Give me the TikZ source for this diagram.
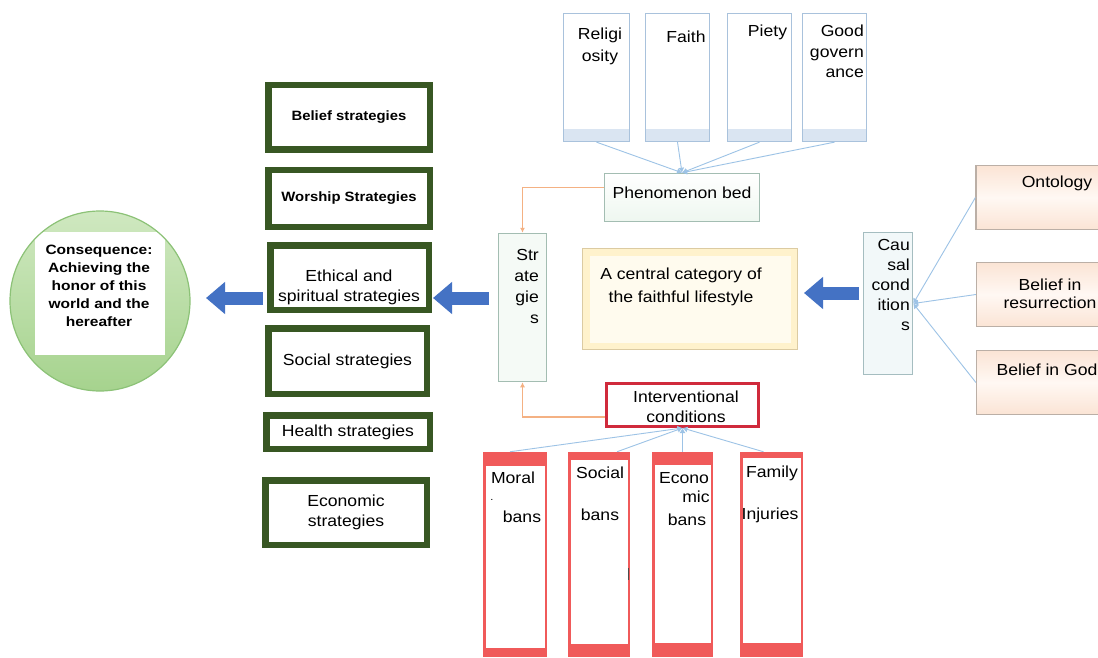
\documentclass[tikz,border=0pt]{standalone}
\usepackage{fontspec}
\setmainfont{Liberation Sans}[FakeStretch=1.1]
\newfontfamily\widefont{Liberation Sans}[FakeStretch=1.15]
\usetikzlibrary{arrows.meta,calc}
\definecolor{blueA}{HTML}{4472C4}
\definecolor{lineblue}{HTML}{9DC3E6}
\definecolor{orangeL}{HTML}{F4B183}
\definecolor{dkgreen}{HTML}{385723}
\definecolor{crimson}{HTML}{D02A3C}
\definecolor{coral}{HTML}{F05A5A}
\definecolor{topedge}{HTML}{A9C2DC}
\definecolor{topstrip}{HTML}{DAE5F2}
\definecolor{mintedge}{HTML}{A3BDB2}
\definecolor{mintfill}{HTML}{EEF7F0}
\definecolor{causedge}{HTML}{A5BDC0}
\definecolor{causfill}{HTML}{F2F8F9}
\definecolor{peachedge}{HTML}{BBAFA6}
\definecolor{peach}{HTML}{FBE4D5}
\definecolor{peachmid}{HTML}{FFF8F3}
\definecolor{yedge}{HTML}{DCCBA2}
\definecolor{yfill}{HTML}{FFF2CC}
\definecolor{yinner}{HTML}{FFFBEE}
\definecolor{cgreen1}{HTML}{CFE8C0}
\definecolor{cgreen2}{HTML}{A6D38E}
\definecolor{cgreenD}{HTML}{8CC277}
\begin{document}
\begin{tikzpicture}[x=1pt,y=-1pt,
  txt/.style={inner sep=0pt, font=\fontsize{16}{20}\selectfont, align=center},
  ntxt/.style={inner sep=0pt, font=\fontsize{16}{21}\selectfont, align=right},
  gbox/.style={draw=dkgreen, line width=6.5pt, fill=white, inner sep=0pt,
    font=\fontsize{16}{20}\selectfont, align=center},
  gboxb/.style={gbox, font=\bfseries\fontsize{13.5}{16}\selectfont},
  topbox/.style={draw=topedge, line width=1.3pt, fill=white, inner sep=0pt,
    minimum height=128pt,
    path picture={\fill[topstrip] ([yshift=12pt]path picture bounding box.south west)
      rectangle (path picture bounding box.south east);}},
  mintbox/.style={draw=mintedge, line width=1.5pt, inner sep=0pt},
  peachbox/.style={draw=peachedge, line width=1.2pt, inner sep=0pt,
    top color=peach, bottom color=peach, middle color=peachmid,
    minimum width=164pt, minimum height=64pt},
  rbox/.style 2 args={draw=coral, line width=2.5pt, fill=white, inner sep=0pt,
    minimum height=203pt,
    path picture={\fill[coral] (path picture bounding box.north west)
      rectangle ([yshift=-#1pt]path picture bounding box.north east);
      \fill[coral] ([yshift=#2pt]path picture bounding box.south west)
      rectangle (path picture bounding box.south east);}},
  conn/.style={draw=lineblue, line width=0.9pt},
  hub/.style={-{Latex[length=5pt,width=6pt]}},
  oconn/.style={draw=orangeL, line width=1.3pt, -{Latex[length=5pt,width=5pt]}},
  barrow/.style={draw=blueA, line width=13pt, -{Triangle[length=19pt,width=31pt]}}
]
\fill[white] (0,0) rectangle (1098,658);
\useasboundingbox (0,0) rectangle (1098,658);

% consequence circle
\node[circle, draw=cgreenD, line width=1.2pt, top color=cgreen1, bottom color=cgreen2,
  minimum size=180pt, inner sep=0pt,
  path picture={\fill[white] ([shift={(-65pt,69pt)}]path picture bounding box.center)
     rectangle ([shift={(65pt,-54pt)}]path picture bounding box.center);}] (cons) at (100,301) {};
\node[inner sep=0pt, align=center, font=\widefont\bfseries\fontsize{13.5}{18}\selectfont]
  (const) at (99,286) {Consequence:\\Achieving the\\honor of this\\world and the\\hereafter};

% strategies column
\node[gboxb, minimum width=161.5pt, minimum height=64.5pt] (bel) at (349,117.5) {Belief strategies};
\node[gboxb, minimum width=161.5pt, minimum height=56.5pt] (wor) at (349,198.5) {Worship Strategies};
\node[gbox, minimum width=158.5pt, minimum height=64.5pt] (eth) at (349.5,277.5) {};
\node[txt] (etht) at (349,287) {Ethical and\\spiritual strategies};
\node[gbox, minimum width=158.5pt, minimum height=65.5pt] (soc) at (347.5,361) {Social strategies};
\node[gbox, minimum width=163.5pt, minimum height=33.5pt] (hea) at (348,432) {Health strategies};
\node[gbox, minimum width=161.5pt, minimum height=64.5pt] (eco) at (346,512.5) {Economic\\strategies};

% top boxes
\node[topbox, minimum width=66pt] (rel) at (596.5,77.5) {};
\node[topbox, minimum width=64pt] (fai) at (677.5,77.5) {};
\node[topbox, minimum width=64pt] (pie) at (759.5,77.5) {};
\node[topbox, minimum width=64pt] (gov) at (834.5,77.5) {};
\node[txt, font=\fontsize{16}{22}\selectfont] (relt) at (600,46) {Religi\\osity};
\node[txt] (fait) at (686,37) {Faith};
\node[txt] (piet) at (767.5,32) {Piety};
\node[txt, align=right, anchor=north east, font=\fontsize{16}{20.5}\selectfont] (govt) at (864,25) {Good\\govern\\ance};

% phenomenon bed
\node[mintbox, top color=white, bottom color=mintfill, minimum width=155pt, minimum height=48pt] (phen) at (682,197.5) {};
\node[txt] (phent) at (682,193) {Phenomenon bed};

% strategies
\node[mintbox, fill=mintfill!60, minimum width=48pt, minimum height=148pt] (strat) at (522.5,307.5) {};
\node[ntxt, anchor=north east] (stratt) at (539,249) {Str\\ate\\gie\\s};

% central category
\node[draw=yedge, line width=1.2pt, fill=yfill, inner sep=0pt, minimum width=215pt, minimum height=101pt,
  path picture={\fill[yinner] ([shift={(7pt,7pt)}]path picture bounding box.south west)
    rectangle ([shift={(-7pt,-7pt)}]path picture bounding box.north east);}] (cent) at (690,299) {};
\node[txt, font=\fontsize{16}{22.5}\selectfont] (centt) at (681,287) {A central category of\\the faithful lifestyle};

% causal conditions
\node[draw=causedge, line width=1.5pt, fill=causfill, inner sep=0pt, minimum width=49pt, minimum height=142pt] (caus) at (888,303.5) {};
\node[ntxt, anchor=north east, font=\fontsize{16}{20}\selectfont] (caust) at (910,239) {Cau\\sal\\cond\\ition\\s};

% right boxes
\node[peachbox] (ont) at (1058,197.5) {};
\node[txt] (ontt) at (1057,183) {Ontology};
\node[peachbox] (res) at (1058.5,294.5) {};
\node[txt, font=\fontsize{16}{18}\selectfont] (rest) at (1050,294) {Belief in\\resurrection};
\node[peachbox] (god) at (1058.5,382.5) {};
\node[txt] (godt) at (1047,370) {Belief in God};

% interventional conditions
\node[draw=crimson, line width=3pt, fill=white, inner sep=0pt, minimum width=152pt, minimum height=43pt] (inter) at (682.5,405) {};
\node[txt] (intert) at (686,407) {Interventional\\conditions};

% bottom boxes
\node[rbox={13}{8}, minimum width=61.5pt] (mor) at (515,554.5) {};
\node[rbox={7}{12}, minimum width=59.5pt] (socb) at (599,554.5) {};
\node[rbox={12}{13}, minimum width=58.5pt] (ecob) at (682.5,554.5) {};
\node[rbox={5}{13}, minimum width=60.5pt] (fam) at (771.5,554.5) {};
\node[txt] (mort1) at (513,478) {Moral};
\node[txt, font=\fontsize{10}{10}\selectfont] (mort2) at (492,500) {.};
\node[txt] (mort3) at (522,517) {bans};
\node[txt] (socbt1) at (600,473) {Social};
\node[txt] (socbt2) at (600,515) {bans};
\node[txt] (ecot1) at (684,478) {Econo};
\node[txt] (ecot2) at (696,497) {mic};
\node[txt] (ecot3) at (687,520) {bans};
\node[txt] (famt1) at (772,473) {Family};
\node[txt] (famt2) at (770,515) {Injuries};
\draw[black!70, line width=1pt] (628,568) -- (628,580);

% thin connectors
\foreach \b in {rel,fai,pie,gov} \draw[conn, hub] (\b.south) -- (phen.north);
\draw[conn, hub] ([xshift=-5pt]mor.north) -- (inter.south);
\draw[conn, hub] ([xshift=18pt]socb.north) -- (inter.south);
\draw[conn, hub] (ecob.north) -- (inter.south);
\draw[conn, hub] ([xshift=-8pt]fam.north) -- (inter.south);
\draw[conn, hub] (ont.west) -- (caus.east);
\draw[conn, hub] (res.west) -- (caus.east);
\draw[conn, hub] (god.west) -- (caus.east);

% orange connectors
\draw[oconn] ([yshift=10pt]phen.west) -| (strat.north);
\draw[oconn] ([yshift=-12pt]inter.west) -| (strat.south);

% block arrows
\coordinate (a1s) at (263,298); \coordinate (a1e) at (206,298);
\coordinate (a2s) at (489,298); \coordinate (a2e) at (433,298);
\coordinate (a3s) at (859,293); \coordinate (a3e) at (804,293);
\draw[barrow] (a1s) -- (a1e);
\draw[barrow] (a2s) -- (a2e);
\draw[barrow] (a3s) -- (a3e);
\end{tikzpicture}
\end{document}
